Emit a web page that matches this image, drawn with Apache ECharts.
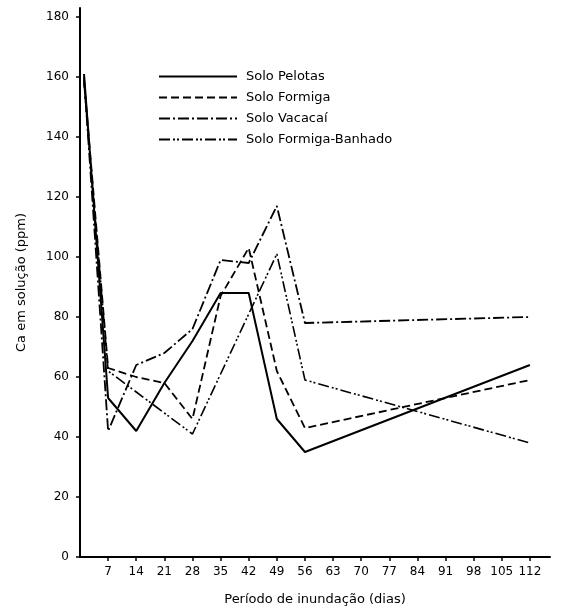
<!DOCTYPE html>
<html>
<head>
<meta charset="utf-8">
<script src="https://cdn.jsdelivr.net/npm/echarts@6/dist/echarts.min.js"></script>
<style>
html,body{margin:0;padding:0;background:#fff;}
#chart{width:561px;height:612px;}
</style>
</head>
<body>
<div id="chart"></div>
<script>
var days = [1, 7, 14, 21, 28, 35, 42, 49, 56, 112];
var seriesNames = ['Solo Pelotas', 'Solo Formiga', 'Solo Vacacaí', 'Solo Formiga-Banhado'];
var pelotas = [161, 53, 42, 58, 72, 88, 88, 46, 35, 64];
var formiga = [159, 63, 60, 58, 46, 87, 103, 62, 43, 59];
var vacacai = [160, 42, 64, 68, 76, 99, 98, 117, 78, 80];
var banhado = [158, 62, 55, 48, 41, 61, 81, 101, 59, 38];
var xTicks = [7, 14, 21, 28, 35, 42, 49, 56, 63, 70, 77, 84, 91, 98, 105, 112];
var yTicks = [0, 20, 40, 60, 80, 100, 120, 140, 160, 180];

var FONT = 'DejaVu Sans';
function pairs(vals) { return days.map(function (d, i) { return [d, vals[i]]; }); }
var dashes = ['solid', [8, 4], [11, 3, 2, 3], [11, 3, 2, 2, 2, 3]];
var widths = [2, 1.8, 1.8, 1.6];
var allVals = [pelotas, formiga, vacacai, banhado];

var chart = echarts.init(document.getElementById('chart'));
chart.setOption({
  animation: false,
  backgroundColor: '#ffffff',
  grid: { left: 80, right: 11, top: 8, bottom: 55 },
  legend: {
    orient: 'vertical', left: 153, top: 65,
    itemWidth: 78, itemHeight: 12, itemGap: 8,
    data: seriesNames,
    itemStyle: { color: 'rgba(0,0,0,0)', borderColor: 'rgba(0,0,0,0)', borderWidth: 0 },
    textStyle: { fontFamily: FONT, fontSize: 13, color: '#000', padding: [0, 0, 0, 4] }
  },
  xAxis: {
    type: 'value', min: 0, max: 117,
    name: 'Período de inundação (dias)', nameLocation: 'middle', nameGap: 36,
    nameTextStyle: { fontFamily: FONT, fontSize: 13, color: '#000' },
    axisLine: { lineStyle: { color: '#000', width: 2 } },
    axisTick: { customValues: xTicks, length: 4, lineStyle: { color: '#000', width: 1.5 } },
    axisLabel: { customValues: xTicks, fontFamily: FONT, fontSize: 12, color: '#000', margin: 9 },
    splitLine: { show: false }
  },
  yAxis: {
    type: 'value', min: 0, max: 183,
    name: 'Ca em solução (ppm)', nameLocation: 'middle', nameGap: 52,
    nameTextStyle: { fontFamily: FONT, fontSize: 13, color: '#000' },
    axisLine: { show: true, lineStyle: { color: '#000', width: 2 } },
    axisTick: { show: true, customValues: yTicks, length: 4, lineStyle: { color: '#000', width: 1.5 } },
    axisLabel: { customValues: yTicks, fontFamily: FONT, fontSize: 12, color: '#000', margin: 11 },
    splitLine: { show: false }
  },
  series: seriesNames.map(function (n, i) {
    return {
      name: n, type: 'line', symbol: 'none', data: pairs(allVals[i]),
      lineStyle: { color: '#000', width: widths[i], type: dashes[i] },
      itemStyle: { color: '#000' }
    };
  })
});
</script>
</body>
</html>
